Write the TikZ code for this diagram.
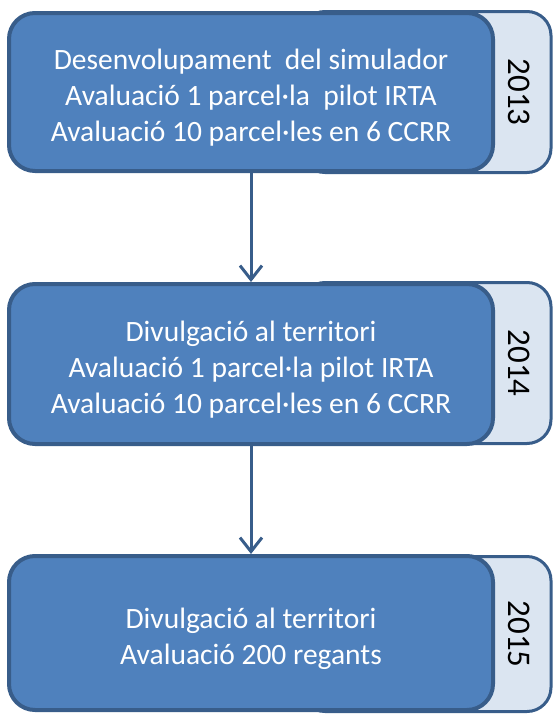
\documentclass[tikz,border=0pt]{standalone}
\usepackage{fontspec}
\setmainfont{Carlito}
\usepackage{tikz}
\usetikzlibrary{arrows.meta}
\definecolor{stagefill}{HTML}{4F81BD}
\definecolor{stageline}{HTML}{385D8A}
\definecolor{tabfill}{HTML}{DBE5F1}
\newcommand{\topgap}{\rule{0pt}{32pt}}
\begin{document}
\begin{tikzpicture}[x=1pt,y=-1pt]
\tikzset{stage/.style={draw=stageline,fill=stagefill,line width=4pt,rounded corners=26pt,
           minimum width=484pt,inner sep=0pt,align=center,text=white,
           font=\fontsize{29.5}{36}\selectfont},
         yeartab/.style={draw=stageline,fill=tabfill,line width=3pt,rounded corners=24pt,
           minimum width=250pt,inner sep=0pt},
         year/.style={rotate=-90,inner sep=0pt,font=\fontsize{33}{36}\selectfont},
         flow/.style={draw=stageline,line width=3pt,-{Straight Barb[length=14pt,width=22pt,line width=3pt]}}}
\useasboundingbox (0,0) rectangle (554,715);
    % year tabs behind the boxes
    \node[yeartab,minimum height=161pt] (tab1) at (426,92) {};
    \node[yeartab,minimum height=161pt] (tab2) at (426,363) {};
    \node[yeartab,minimum height=155pt] (tab3) at (426,634) {};
    % stages
    \node[stage,minimum height=158pt] (box1) at (251,92)
        {\topgap Desenvolupament\ \ del simulador\\Avaluació 1 parcel·la\ \ pilot IRTA\\Avaluació 10 parcel·les en 6 CCRR};
    \node[stage,minimum height=160pt] (box2) at (251,364)
        {\topgap Divulgació al territori\\Avaluació 1 parcel·la pilot IRTA\\Avaluació 10 parcel·les en 6 CCRR};
    \node[stage,minimum height=154pt] (box3) at (251,633)
        {\topgap Divulgació al territori\\Avaluació 200 regants};
    \node[year] (year1) at (519,92) {2013};
    \node[year] (year2) at (519,363) {2014};
    \node[year] (year3) at (519,634) {2015};
    \draw[flow] (box1.south) -- (box2.north);
    \draw[flow] (box2.south) -- (box3.north);
\end{tikzpicture}
\end{document}
